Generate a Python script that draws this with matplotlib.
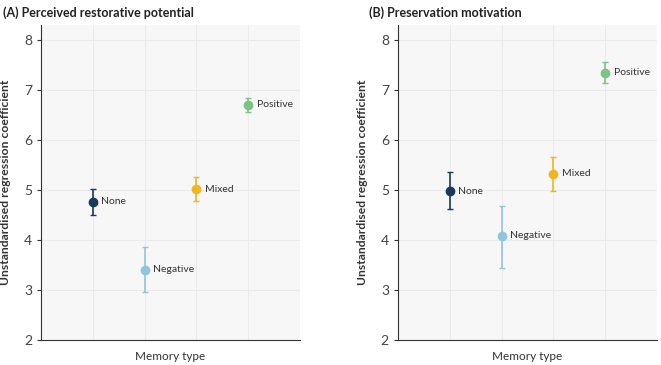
import matplotlib.pyplot as plt

plt.rcParams['font.family'] = ['Lato', 'DejaVu Sans']

memory_types = ["None", "Negative", "Mixed", "Positive"]
colors = ["#173a5e", "#93c4df", "#f2b51d", "#7dc383"]

# panel A: perceived restorative potential
restor_est = [4.77, 3.41, 5.02, 6.70]
restor_lo = [4.51, 2.97, 4.78, 6.55]
restor_hi = [5.03, 3.86, 5.25, 6.84]

# panel B: preservation motivation
pres_est = [4.98, 4.09, 5.32, 7.34]
pres_lo = [4.62, 3.45, 4.98, 7.13]
pres_hi = [5.35, 4.69, 5.65, 7.55]

fig = plt.figure(figsize=(6.61, 3.65), dpi=100)
ax1 = fig.add_axes([0.062, 0.068, 0.392, 0.864])
ax2 = fig.add_axes([0.602, 0.068, 0.392, 0.864])

panels = [
    (ax1, "(A) Perceived restorative potential", restor_est, restor_lo, restor_hi, 0.004),
    (ax2, "(B) Preservation motivation", pres_est, pres_lo, pres_hi, 0.558),
]

for ax, title, est, lo, hi, tx in panels:
    ax.set_facecolor("#f7f7f7")
    for i, name in enumerate(memory_types):
        x = i + 1
        ax.errorbar(x, est[i], yerr=[[est[i] - lo[i]], [hi[i] - est[i]]],
                    fmt="o", color=colors[i], markersize=6, elinewidth=1.2,
                    capsize=2.5, capthick=1, zorder=3)
        ax.annotate(name, (x, est[i]), xytext=(6, 0), textcoords="offset points",
                    va="center", ha="left", fontsize=7.5, color="#333333")
    ax.set_xlim(0, 5)
    ax.set_ylim(2, 8.3)
    ax.set_yticks(range(2, 9))
    ax.set_xticks([1, 2, 3, 4])
    ax.set_xticklabels([])
    ax.tick_params(axis="x", length=0)
    ax.tick_params(axis="y", length=3, labelsize=10, labelcolor="#444444", color="#333333")
    ax.grid(True, color="#ebebeb", linewidth=0.8)
    ax.set_axisbelow(True)
    for s in ["top", "right"]:
        ax.spines[s].set_visible(False)
    ax.spines["left"].set_color("#333333")
    ax.spines["bottom"].set_color("#333333")
    ax.set_xlabel("Memory type", fontsize=8.5, color="#333333", labelpad=4)
    ax.set_ylabel("Unstandardised regression coefficient", fontsize=8.7,
                  fontweight="bold", color="#333333", labelpad=9)
    fig.text(tx, 0.965, title, fontsize=9, fontweight="bold", color="#222222",
             ha="left", va="center")

fig.savefig("out.png", dpi=100)
